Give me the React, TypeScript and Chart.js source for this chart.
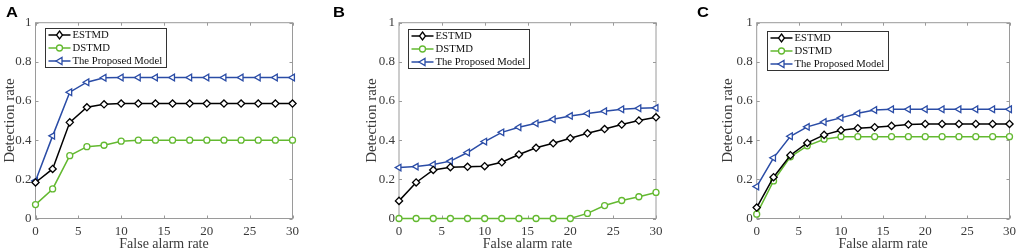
import React, { useEffect, useRef } from 'react';
import { Chart, registerables } from 'chart.js';
Chart.register(...registerables);

const falseAlarmRates = [0, 2, 4, 6, 8, 10, 12, 14, 16, 18, 20, 22, 24, 26, 28, 30];
const seriesNames = ['ESTMD', 'DSTMD', 'The Proposed Model'];
const panelLetters = ['A', 'B', 'C'];
const xTickStep = 5;
const yTickStep = 0.2;

const estmdA = [0.184, 0.253, 0.491, 0.568, 0.583, 0.587, 0.587, 0.587, 0.587, 0.587, 0.587, 0.587, 0.587, 0.587, 0.587, 0.587];
const dstmdA = [0.071, 0.151, 0.321, 0.367, 0.374, 0.395, 0.4, 0.4, 0.4, 0.4, 0.4, 0.4, 0.4, 0.4, 0.4, 0.4];
const proposedA = [0.192, 0.422, 0.645, 0.696, 0.719, 0.72, 0.72, 0.72, 0.72, 0.72, 0.72, 0.72, 0.72, 0.72, 0.72, 0.72];

const estmdB = [0.09, 0.184, 0.248, 0.262, 0.264, 0.267, 0.287, 0.327, 0.361, 0.384, 0.41, 0.435, 0.457, 0.48, 0.5, 0.517];
const dstmdB = [0, 0, 0, 0, 0, 0, 0, 0, 0, 0, 0, 0.026, 0.066, 0.092, 0.111, 0.133];
const proposedB = [0.26, 0.265, 0.276, 0.293, 0.337, 0.393, 0.44, 0.466, 0.486, 0.507, 0.524, 0.536, 0.548, 0.558, 0.563, 0.565];

const estmdC = [0.056, 0.211, 0.323, 0.386, 0.427, 0.451, 0.461, 0.466, 0.473, 0.48, 0.483, 0.483, 0.483, 0.483, 0.483, 0.483];
const dstmdC = [0.022, 0.192, 0.315, 0.371, 0.405, 0.418, 0.418, 0.418, 0.418, 0.418, 0.418, 0.418, 0.418, 0.418, 0.418, 0.418];
const proposedC = [0.163, 0.31, 0.42, 0.468, 0.493, 0.514, 0.537, 0.554, 0.558, 0.558, 0.558, 0.558, 0.558, 0.558, 0.558, 0.558];

const COLORS = ['#000000', '#63b930', '#2a4ca6'];
const SERIF = '"Liberation Serif", "Times New Roman", serif';
const TEXT = '#3a3a3a';
const AXIS = '#9a9a9a';

type PanelLayout = { left: number; width: number; padL: number; yw: number; padR: number; legendDx: number; legendDy: number; letterX: number };

const layouts: PanelLayout[] = [
  { left: 0, width: 340, padL: 0, yw: 35.5, padR: 47.5, legendDx: 9, legendDy: 5, letterX: 6 },
  { left: 340, width: 340, padL: 22, yw: 37, padR: 24, legendDx: 9.3, legendDy: 6, letterX: 333 },
  { left: 680, width: 341, padL: 38.5, yw: 38.2, padR: 8, legendDx: 10.6, legendDy: 8, letterX: 697 },
];

const panelData = [
  [estmdA, dstmdA, proposedA],
  [estmdB, dstmdB, proposedB],
  [estmdC, dstmdC, proposedC],
];

function drawMarker(ctx: CanvasRenderingContext2D, kind: number, x: number, y: number, color: string) {
  ctx.save();
  ctx.strokeStyle = color;
  ctx.fillStyle = '#ffffff';
  ctx.lineWidth = 1.3;
  ctx.beginPath();
  if (kind === 0) {
    ctx.moveTo(x, y - 4);
    ctx.lineTo(x + 3, y);
    ctx.lineTo(x, y + 4);
    ctx.lineTo(x - 3, y);
    ctx.closePath();
  } else if (kind === 1) {
    ctx.arc(x, y, 3, 0, Math.PI * 2);
  } else {
    ctx.moveTo(x - 3.5, y);
    ctx.lineTo(x + 2.5, y - 3.5);
    ctx.lineTo(x + 2.5, y + 3.5);
    ctx.closePath();
  }
  ctx.fill();
  ctx.stroke();
  ctx.restore();
}

const boxPlugin = {
  id: 'matlabBox',
  beforeDatasetsDraw(chart: any) {
    const { ctx, chartArea: a, scales } = chart;
    ctx.save();
    ctx.strokeStyle = AXIS;
    ctx.lineWidth = 1;
    ctx.strokeRect(a.left, a.top, a.right - a.left, a.bottom - a.top);
    const tl = 3;
    ctx.beginPath();
    for (let v = 0; v <= 30 + 1e-9; v += xTickStep) {
      const px = Math.round(scales.x.getPixelForValue(v)) + 0.5;
      ctx.moveTo(px, a.bottom);
      ctx.lineTo(px, a.bottom - tl);
      ctx.moveTo(px, a.top);
      ctx.lineTo(px, a.top + tl);
    }
    for (let v = 0; v <= 1 + 1e-9; v += yTickStep) {
      const py = Math.round(scales.y.getPixelForValue(v)) + 0.5;
      ctx.moveTo(a.left, py);
      ctx.lineTo(a.left + tl, py);
      ctx.moveTo(a.right, py);
      ctx.lineTo(a.right - tl, py);
    }
    ctx.stroke();
    ctx.restore();
  },
  afterDraw(chart: any, _args: any, opts: any) {
    const { ctx, chartArea: a } = chart;
    ctx.save();
    ctx.font = `10.7px ${SERIF}`;
    let maxW = 0;
    seriesNames.forEach((n) => { maxW = Math.max(maxW, ctx.measureText(n).width); });
    const bx = Math.round(a.left + opts.dx) + 0.5;
    const by = Math.round(a.top + opts.dy) + 0.5;
    const bw = Math.round(27 + maxW + 4);
    const bh = 39;
    ctx.fillStyle = '#ffffff';
    ctx.fillRect(bx, by, bw, bh);
    ctx.strokeStyle = '#333333';
    ctx.lineWidth = 1;
    ctx.strokeRect(bx, by, bw, bh);
    seriesNames.forEach((n, i) => {
      const yy = by + 6.5 + i * 13;
      ctx.strokeStyle = COLORS[i];
      ctx.lineWidth = 1.5;
      ctx.beginPath();
      ctx.moveTo(bx + 3, yy);
      ctx.lineTo(bx + 25, yy);
      ctx.stroke();
      drawMarker(ctx, i, bx + 14, yy, COLORS[i]);
      ctx.fillStyle = '#111111';
      ctx.textAlign = 'left';
      ctx.textBaseline = 'middle';
      ctx.fillText(n, bx + 27, yy + 0.5);
    });
    ctx.restore();
  },
};

function Panel({ idx }: { idx: number }) {
  const ref = useRef<HTMLCanvasElement>(null);
  const L = layouts[idx];
  useEffect(() => {
    if (!ref.current) return;
    const series = panelData[idx];
    const styles = [
      { pointStyle: 'rectRot', pointRadius: 3.6, pointRotation: 0 },
      { pointStyle: 'circle', pointRadius: 3, pointRotation: 0 },
      { pointStyle: 'triangle', pointRadius: 3.8, pointRotation: -90 },
    ];
    const chart = new Chart(ref.current, {
      type: 'line',
      data: {
        datasets: series.map((vals, i) => ({
          label: seriesNames[i],
          data: falseAlarmRates.map((x, j) => ({ x, y: vals[j] })),
          borderColor: COLORS[i],
          backgroundColor: '#ffffff',
          pointBorderColor: COLORS[i],
          pointBackgroundColor: '#ffffff',
          pointBorderWidth: 1.3,
          borderWidth: 1.5,
          tension: 0,
          clip: false as any,
          ...styles[i],
        })) as any,
      },
      options: {
        responsive: false,
        animation: false,
        devicePixelRatio: 1,
        layout: { padding: { left: L.padL, right: L.padR, top: 22.7, bottom: 0 } },
        plugins: {
          legend: { display: false },
          tooltip: { enabled: false },
          matlabBox: { dx: L.legendDx, dy: L.legendDy },
        } as any,
        scales: {
          x: {
            type: 'linear',
            min: 0,
            max: 30,
            ticks: { stepSize: xTickStep, padding: 5, color: TEXT, font: { family: SERIF, size: 13 }, maxRotation: 0, autoSkip: false },
            grid: { display: false, drawTicks: false },
            border: { display: false },
            title: { display: true, text: 'False alarm rate', color: TEXT, font: { family: SERIF, size: 14, lineHeight: 1.0 }, padding: { top: 0, bottom: 0 } },
            afterFit: (s: any) => { s.height = 32.5; },
          },
          y: {
            type: 'linear',
            min: 0,
            max: 1,
            ticks: {
              stepSize: yTickStep, padding: 4, color: TEXT, font: { family: SERIF, size: 13 },
              callback: (v: any) => String(Math.round(Number(v) * 10) / 10),
            },
            grid: { display: false, drawTicks: false },
            border: { display: false },
            title: { display: true, text: 'Detection rate', color: TEXT, font: { family: SERIF, size: 15 }, padding: { top: 1, bottom: 0 } },
            afterFit: (s: any) => { s.width = L.yw; },
          },
        },
      },
      plugins: [boxPlugin],
    });
    return () => chart.destroy();
  }, [idx]);
  return (
    <>
      <canvas ref={ref} width={L.width} height={251} style={{ position: 'absolute', left: L.left, top: 0, width: L.width, height: 251 }} />
      <div style={{ position: 'absolute', left: L.letterX, top: 3, font: `bold 15px "Liberation Sans", Arial, sans-serif`, color: '#000', transform: 'scaleX(1.1)', transformOrigin: 'left top', lineHeight: '18px' }}>
        {panelLetters[idx]}
      </div>
    </>
  );
}

export default function App() {
  return (
    <div style={{ position: 'fixed', left: 0, top: 0, width: 1021, height: 251, background: '#fff', overflow: 'hidden' }}>
      {[0, 1, 2].map((i) => <Panel key={i} idx={i} />)}
    </div>
  );
}
